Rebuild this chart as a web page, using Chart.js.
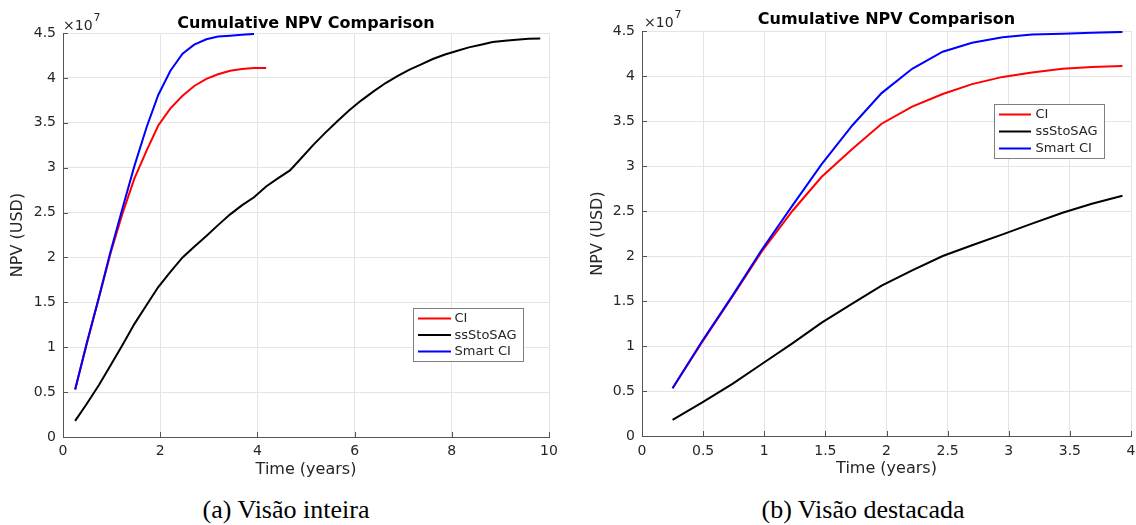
<!DOCTYPE html>
<html>
<head>
<meta charset="utf-8">
<script src="https://cdn.jsdelivr.net/npm/chart.js@4.4.1/dist/chart.umd.min.js"></script>
<style>
  html, body { margin: 0; padding: 0; background: #ffffff; }
  #wrap { position: relative; width: 1136px; height: 525px; overflow: hidden; background: #fff; }
  canvas { position: absolute; top: 0; }
  #cLeft { left: 0; }
  #cRight { left: 570px; }
  .cap { position: absolute; font-family: 'Liberation Serif', 'Times New Roman', serif; font-size: 26px; line-height: 26px; color: #000; white-space: nowrap; transform: translateX(-50%); top: 497px; }
</style>
</head>
<body>
<div id="wrap">
  <canvas id="cLeft" width="575" height="490"></canvas>
  <canvas id="cRight" width="566" height="490"></canvas>
  <div class="cap" style="left:286px">(a) Visão inteira</div>
  <div class="cap" style="left:863px">(b) Visão destacada</div>
</div>
<script>
// ---- data (NPV in units of 10^7 USD) ----
const timeYears = [0.25, 0.49, 0.74, 0.98, 1.23, 1.47, 1.72, 1.96, 2.21, 2.46,
                   2.70, 2.95, 3.19, 3.44, 3.68, 3.93, 4.18, 4.42, 4.67, 4.91,
                   5.16, 5.40, 5.65, 5.89, 6.14, 6.39, 6.63, 6.88, 7.12, 7.37,
                   7.61, 7.86, 8.10, 8.35, 8.60, 8.84, 9.09, 9.33, 9.58, 9.82];
const ciNPV = [0.53, 1.04, 1.55, 2.05, 2.50, 2.88, 3.19, 3.47, 3.66, 3.80,
               3.91, 3.99, 4.04, 4.08, 4.10, 4.11, 4.11];
const ssStoSAGNPV = [0.18, 0.37, 0.58, 0.80, 1.03, 1.26, 1.47, 1.67, 1.84, 2.00,
                     2.12, 2.24, 2.36, 2.48, 2.58, 2.67, 2.79, 2.88, 2.97, 3.11,
                     3.26, 3.39, 3.52, 3.64, 3.75, 3.85, 3.94, 4.02, 4.09, 4.15,
                     4.21, 4.26, 4.30, 4.34, 4.37, 4.40, 4.415, 4.425, 4.435, 4.44];
const smartCINPV = [0.53, 1.05, 1.56, 2.07, 2.56, 3.02, 3.45, 3.81, 4.08, 4.27,
                    4.37, 4.43, 4.46, 4.47, 4.48, 4.49];
const seriesNames = ['CI', 'ssStoSAG', 'Smart CI'];
const seriesColors = ['#ff0000', '#000000', '#0000ff'];
const chartTitle = 'Cumulative NPV Comparison';
const xAxisTitle = 'Time (years)';
const yAxisTitle = 'NPV (USD)';
const yExponent = '7';
const zoomPoints = 16; // points shown in the detailed view

function pts(values, n) {
  const m = Math.min(n, values.length);
  return values.slice(0, m).map((v, i) => ({ x: timeYears[i], y: v }));
}

const FONT = "'DejaVu Sans', sans-serif";
const TXT = '#262626';

const decor = {
  id: 'decor',
  afterDraw(chart, args, o) {
    const ctx = chart.ctx;
    const ca = chart.chartArea;
    const xs = chart.scales.x, ys = chart.scales.y;
    ctx.save();
    // inward ticks
    ctx.strokeStyle = '#555555';
    ctx.lineWidth = 1;
    ctx.beginPath();
    xs.ticks.forEach(t => {
      const p = Math.round(xs.getPixelForValue(t.value)) + 0.5;
      ctx.moveTo(p, Math.round(ca.bottom)); ctx.lineTo(p, Math.round(ca.bottom) - 5);
    });
    ys.ticks.forEach(t => {
      const p = Math.round(ys.getPixelForValue(t.value)) + 0.5;
      ctx.moveTo(Math.round(ca.left), p); ctx.lineTo(Math.round(ca.left) + 5, p);
    });
    ctx.stroke();
    // title
    ctx.fillStyle = '#000';
    ctx.font = 'bold 16px ' + FONT;
    ctx.textAlign = 'center';
    ctx.textBaseline = 'alphabetic';
    ctx.fillText(chartTitle, (ca.left + ca.right) / 2, o.titleY);
    // exponent
    ctx.fillStyle = TXT;
    ctx.textAlign = 'left';
    ctx.font = '14px ' + FONT;
    const bx = ca.left + o.expDx;
    ctx.fillText('\u00d710', bx, ca.top - o.expDy);
    const w = ctx.measureText('\u00d710').width;
    ctx.font = '11px ' + FONT;
    ctx.fillText(yExponent, bx + w + 1, ca.top - o.expDy - 9);
    // legend
    const L = o.legend;
    ctx.fillStyle = '#ffffff';
    ctx.fillRect(L.x, L.y, L.w, L.h);
    ctx.strokeStyle = '#7f7f7f';
    ctx.lineWidth = 1;
    ctx.strokeRect(L.x + 0.5, L.y + 0.5, L.w, L.h);
    ctx.font = '13px ' + FONT;
    ctx.textBaseline = 'middle';
    chart.data.datasets.forEach((ds, i) => {
      const y = L.rows[i];
      ctx.strokeStyle = ds.borderColor;
      ctx.lineWidth = 2;
      ctx.beginPath();
      ctx.moveTo(L.lx1, y); ctx.lineTo(L.lx2, y);
      ctx.stroke();
      ctx.fillStyle = TXT;
      ctx.fillText(ds.label, L.tx, y + 0.5);
    });
    ctx.restore();
  }
};

function makeChart(id, n, xMax, xStep, lay) {
  const vals = [ciNPV, ssStoSAGNPV, smartCINPV];
  const orders = [2, 1, 0];
  const datasets = vals.map((v, i) => ({
    label: seriesNames[i],
    data: pts(v, n),
    borderColor: seriesColors[i],
    backgroundColor: seriesColors[i],
    borderWidth: 2,
    pointRadius: 0,
    tension: 0,
    fill: false,
    order: orders[i]
  }));
  const H = 490;
  return new Chart(document.getElementById(id), {
    type: 'line',
    data: { datasets },
    plugins: [decor],
    options: {
      responsive: false,
      animation: false,
      devicePixelRatio: 1,
      layout: { padding: { left: 0, right: lay.padRight, top: lay.padTop, bottom: 0 } },
      plugins: {
        legend: { display: false },
        title: { display: false },
        tooltip: { enabled: false },
        decor: lay.decor
      },
      scales: {
        x: {
          type: 'linear', min: 0, max: xMax,
          ticks: { stepSize: xStep, color: TXT, font: { family: FONT, size: 14 }, padding: lay.xTickPad, maxRotation: 0,
                   callback: v => String(v) },
          grid: { color: '#e4e4e4', drawTicks: false },
          border: { color: '#555555', width: 1 },
          title: { display: true, text: xAxisTitle, color: TXT, font: { family: FONT, size: 16 }, padding: { top: 0, bottom: lay.xTitlePad } },
          afterFit: s => { s.height = H - lay.bottom; s.paddingLeft = 0; s.paddingRight = 0; }
        },
        y: {
          min: 0, max: 4.5,
          ticks: { stepSize: 0.5, color: TXT, font: { family: FONT, size: 14 }, padding: 7,
                   callback: v => String(v) },
          grid: { color: '#e4e4e4', drawTicks: false },
          border: { color: '#555555', width: 1 },
          title: { display: true, text: yAxisTitle, color: TXT, font: { family: FONT, size: 16 }, padding: { top: lay.yTitlePad, bottom: 0 } },
          afterFit: s => { s.width = lay.left; s.paddingTop = 0; s.paddingBottom = 0; }
        }
      }
    }
  });
}

makeChart('cLeft', timeYears.length, 10, 2, {
  left: 63, padRight: 26, padTop: 33, bottom: 437, xTickPad: 6, xTitlePad: 10.5, yTitlePad: 8.5,
  decor: {
    titleY: 27.5, expDx: 0, expDy: 3.5,
    legend: { x: 413, y: 308, w: 110, h: 53, rows: [318.5, 335, 351.5], lx1: 418, lx2: 451, tx: 454.5 }
  }
});

makeChart('cRight', zoomPoints, 4, 0.5, {
  left: 72, padRight: 5, padTop: 31, bottom: 436, xTickPad: 7, xTitlePad: 12, yTitlePad: 18,
  decor: {
    titleY: 24, expDx: 2, expDy: 4,
    legend: { x: 424, y: 104, w: 110, h: 54, rows: [114.5, 131.5, 148.5], lx1: 429, lx2: 461, tx: 465.5 }
  }
});
</script>
</body>
</html>
